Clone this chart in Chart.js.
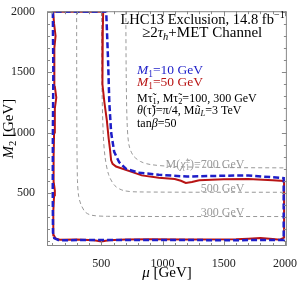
<!DOCTYPE html>
<html>
<head>
<meta charset="utf-8">
<script src="https://cdn.jsdelivr.net/npm/chart.js@4.4.0/dist/chart.umd.min.js"></script>
<style>
  html, body { margin: 0; padding: 0; background: #fff; }
</style>
</head>
<body>
<canvas id="chart" width="300" height="283"></canvas>
<script>
// Eixos
const xTicks = [500, 1000, 1500, 2000];
const yTicks = [500, 1000, 1500, 2000];

// Contorno M1 = 10 GeV (azul tracejado)
const blueMu = [150, 115, 105, 103, 104, 108, 105, 104, 540, 555, 565, 580, 605, 645, 700, 800, 970, 1200, 1400, 1700, 1990, 1990, 1500, 1000, 500, 150];
const blueM2 = [108, 125, 170, 500, 1000, 1500, 1800, 2000, 2000, 1600, 1250, 1000, 840, 755, 700, 668, 650, 635, 640, 645, 622, 110, 108, 110, 110, 108];

// Contorno M1 = 50 GeV (vermelho)
const redMu = [106, 515, 512, 508, 510, 525, 545, 560, 572, 580, 592, 620, 680, 760, 830, 970, 1100, 1150, 1190, 1240, 1300, 1500, 1700, 1900, 1993,
               1993, 1960, 1900, 1800, 1700, 1600, 1200, 900, 700, 560, 500, 440, 300, 160, 125, 112,
               107, 108, 114, 120, 112, 110, 114, 120, 132, 120, 114, 118, 126, 114, 106];
const redM2 = [2000, 2000, 1850, 1600, 1400, 1250, 1100, 950, 850, 770, 740, 718, 698, 670, 645, 626, 615, 600, 582, 590, 605, 612, 615, 605, 598,
               130, 112, 118, 127, 120, 115, 113, 115, 113, 108, 98, 108, 113, 112, 122, 150,
               200, 350, 480, 520, 580, 800, 1000, 1200, 1290, 1380, 1550, 1700, 1800, 1900, 2000];

// Contornos de massa do chargino
const chiLevels = [700, 500, 300];
const chi700Mu = [700, 703, 710, 725, 760, 820, 900, 1100, 1500, 2016];
const chi700M2 = [2005, 1500, 1100, 900, 810, 760, 735, 718, 710, 707];
const chi500Mu = [502, 505, 515, 530, 560, 610, 680, 800, 2016];
const chi500M2 = [2005, 1400, 1000, 800, 650, 560, 520, 508, 505];
const chi300Mu = [298, 300, 305, 315, 335, 370, 420, 550, 2016];
const chi300M2 = [2005, 1000, 600, 470, 400, 340, 315, 306, 304];

const SERIF = "'Liberation Serif', 'DejaVu Serif', serif";

function pts(xs, ys) {
    return xs.map((x, i) => ({ x: x, y: ys[i] }));
}

function setFont(ctx, f, size) {
    const s = (f.includes('b') || f.includes('p')) ? size * 0.7 : size;
    ctx.font = (f.includes('i') ? 'italic ' : '') + s + 'px ' + SERIF;
}

// Desenha texto com itálico, subscrito e sobrescrito
function drawRich(ctx, runs, x, y, size, color, align) {
    let w = 0;
    runs.forEach(r => {
        const f = r[1] || '';
        setFont(ctx, f, size);
        if (!f.includes('n')) w += ctx.measureText(r[0]).width;
    });
    let cx = align === 'right' ? x - w : align === 'center' ? x - w / 2 : x;
    ctx.fillStyle = color;
    ctx.textBaseline = 'alphabetic';
    ctx.textAlign = 'left';
    runs.forEach(r => {
        const f = r[1] || '';
        setFont(ctx, f, size);
        const dy = f.includes('b') ? size * 0.22 : f.includes('p') ? -size * 0.38 : 0;
        ctx.fillText(r[0], cx, y + dy);
        if (!f.includes('n')) cx += ctx.measureText(r[0]).width;
    });
}

const framePlugin = {
    id: 'frame',
    afterDraw(chart) {
        const ctx = chart.ctx;
        const a = chart.chartArea;
        const xs = chart.scales.x, ys = chart.scales.y;
        ctx.save();
        ctx.strokeStyle = '#888';
        ctx.lineWidth = 1;
        ctx.strokeRect(a.left + 0.5, a.top + 0.5, a.right - a.left - 1, a.bottom - a.top - 1);
        ctx.beginPath();
        for (let v = 100; v <= 2000; v += 100) {
            const len = v % 500 === 0 ? 5 : 3;
            const px = Math.round(xs.getPixelForValue(v)) + 0.5;
            ctx.moveTo(px, a.bottom); ctx.lineTo(px, a.bottom - len);
            ctx.moveTo(px, a.top); ctx.lineTo(px, a.top + len);
            const py = Math.round(ys.getPixelForValue(v)) + 0.5;
            ctx.moveTo(a.left, py); ctx.lineTo(a.left + len, py);
            ctx.moveTo(a.right, py); ctx.lineTo(a.right - len, py);
        }
        ctx.stroke();

        // Títulos dos eixos
        drawRich(ctx, [['μ', 'i'], [' [GeV]']], (a.left + a.right) / 2, 277, 15, '#000', 'center');
        ctx.save();
        ctx.translate(13, (a.top + a.bottom) / 2);
        ctx.rotate(-Math.PI / 2);
        drawRich(ctx, [['M', 'i'], ['2', 'b'], [' [GeV]']], 0, 0, 15, '#000', 'center');
        ctx.restore();

        // Rótulos dos contornos do chargino
        const lx = xs.getPixelForValue(1670);
        drawRich(ctx, [['M('], ['χ̃', 'i'], ['1', 'bn'], ['±', 'p'], [')=' + chiLevels[0] + ' GeV']], lx, ys.getPixelForValue(chiLevels[0]) - 1, 12, '#999', 'right');
        drawRich(ctx, [[chiLevels[1] + ' GeV']], lx, ys.getPixelForValue(chiLevels[1]) - 1, 12, '#999', 'right');
        drawRich(ctx, [[chiLevels[2] + ' GeV']], lx, ys.getPixelForValue(chiLevels[2]) - 1, 12, '#999', 'right');

        // Texto de informações
        drawRich(ctx, [['LHC13 Exclusion, 14.8 fb'], ['−1', 'p']], 120.5, 23.5, 14.5, '#000');
        drawRich(ctx, [['≥2'], ['τ', 'i'], ['h', 'ib'], ['+MET Channel']], 142, 37, 15, '#000');
        drawRich(ctx, [['M', 'i'], ['1', 'b'], ['=10 GeV']], 137, 74, 13.5, '#1e1ec8');
        drawRich(ctx, [['M', 'i'], ['1', 'b'], ['=50 GeV']], 137, 86, 13.5, '#b81414');
        drawRich(ctx, [['Mτ̃'], ['1', 'b'], [', Mτ̃'], ['2', 'b'], ['=100, 300 GeV']], 137, 101.5, 12, '#000');
        drawRich(ctx, [['θ', 'i'], ['(τ̃)=π/4, M'], ['ũ', 'i'], ['L', 'ib'], ['=3 TeV']], 137, 113.5, 12, '#000');
        drawRich(ctx, [['tan'], ['β', 'i'], ['=50']], 137, 127, 12, '#000');
        ctx.restore();
    }
};

const ctx = document.getElementById('chart').getContext('2d');
new Chart(ctx, {
    type: 'line',
    data: {
        datasets: [
            {
                data: pts(blueMu, blueM2),
                borderColor: '#1e1ec8',
                borderWidth: 2.5,
                borderDash: [6, 3],
                pointRadius: 0,
                tension: 0
            },
            {
                data: pts(redMu, redM2),
                borderColor: '#b81414',
                borderWidth: 2,
                pointRadius: 0,
                tension: 0
            },
            {
                data: pts(chi700Mu, chi700M2),
                borderColor: '#999',
                borderWidth: 1,
                borderDash: [4, 3],
                pointRadius: 0,
                tension: 0.3
            },
            {
                data: pts(chi500Mu, chi500M2),
                borderColor: '#999',
                borderWidth: 1,
                borderDash: [4, 3],
                pointRadius: 0,
                tension: 0.3
            },
            {
                data: pts(chi300Mu, chi300M2),
                borderColor: '#999',
                borderWidth: 1,
                borderDash: [4, 3],
                pointRadius: 0,
                tension: 0.3
            }
        ]
    },
    options: {
        responsive: false,
        animation: false,
        layout: { padding: { top: 5, right: 10, left: 0, bottom: 0 } },
        plugins: { legend: { display: false }, tooltip: { enabled: false } },
        scales: {
            x: {
                type: 'linear',
                min: 56,
                max: 2016,
                grid: { display: false },
                border: { display: false },
                afterBuildTicks: (scale) => { scale.ticks = xTicks.map(v => ({ value: v })); },
                afterFit: (scale) => { scale.height = 37; },
                ticks: {
                    padding: 3,
                    maxRotation: 0,
                    color: '#222',
                    font: { family: SERIF, size: 12 },
                    callback: (v) => String(v)
                }
            },
            y: {
                type: 'linear',
                min: 60,
                max: 2005,
                grid: { display: false },
                border: { display: false },
                afterBuildTicks: (scale) => { scale.ticks = yTicks.map(v => ({ value: v })); },
                afterFit: (scale) => { scale.width = 47; },
                ticks: {
                    padding: 4,
                    color: '#222',
                    font: { family: SERIF, size: 12 },
                    callback: (v) => String(v)
                }
            }
        }
    },
    plugins: [framePlugin]
});
</script>
</body>
</html>
